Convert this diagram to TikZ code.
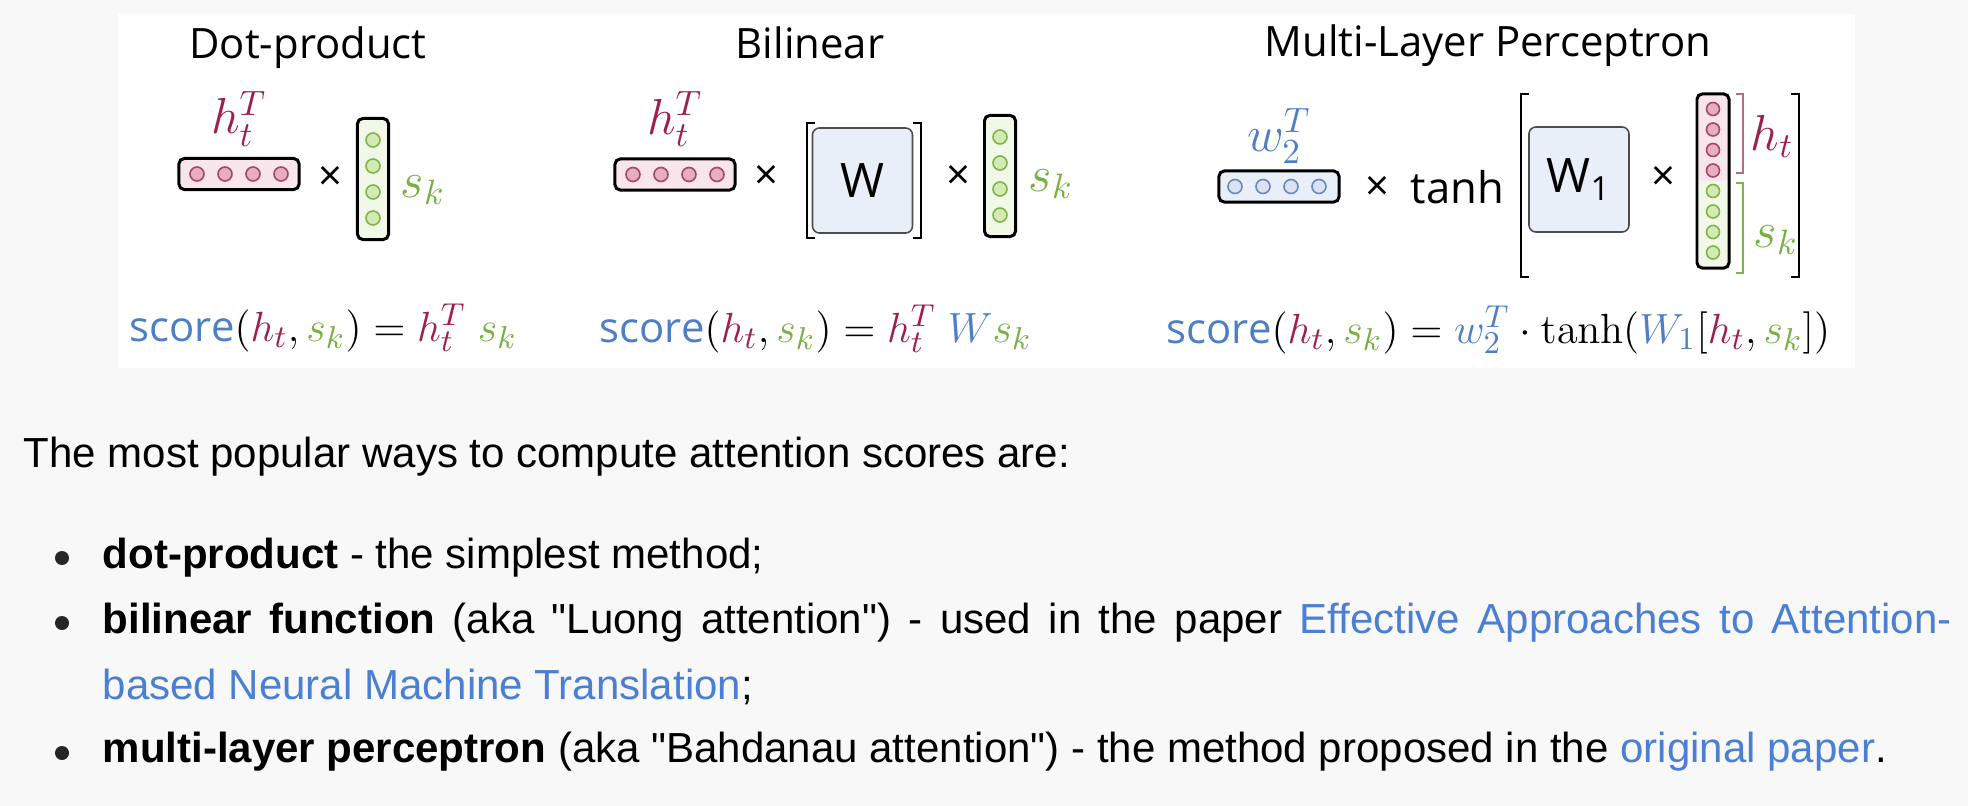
\documentclass[tikz,border=0pt]{standalone}
\usepackage[no-math]{fontspec}
\setmainfont{Open Sans}
\newfontfamily\bodyfont{Liberation Sans}
\usetikzlibrary{positioning}
\definecolor{crimson}{HTML}{9E1F4D}
\definecolor{leaf}{HTML}{78B043}
\definecolor{sky}{HTML}{4C7FC6}
\definecolor{link}{HTML}{4A7FD4}
\definecolor{pinkfill}{HTML}{F8E6EC}
\definecolor{pinkdot}{HTML}{E6AEC0}
\definecolor{pinkline}{HTML}{A5466E}
\definecolor{greenfill}{HTML}{F2F8E8}
\definecolor{greendot}{HTML}{D3EBB2}
\definecolor{greenline}{HTML}{7FB44C}
\definecolor{bluefill}{HTML}{E9EFF8}
\definecolor{bluedot}{HTML}{D9E3F3}
\definecolor{blueline}{HTML}{6C88BC}
\definecolor{pagegray}{HTML}{F8F8F8}
\newcommand{\hvec}{{\color{crimson}h_t}}
\newcommand{\hvecT}{{\color{crimson}h_t^T}}
\newcommand{\svec}{{\color{leaf}s_k}}
\newcommand{\wvecT}{{\color{sky}w_2^T}}
\newcommand{\scorefn}{\textcolor{sky}{score}}
\newcommand{\bigmath}[1]{{\fontsize{12.3}{15}\selectfont$#1$}}

\begin{document}
\begin{tikzpicture}[x=0.01cm, y=-0.01cm, font=\fontsize{11.9}{14}\selectfont,
  vecbox/.style={draw=black, line width=0.85pt, rounded corners=1.5pt, inner sep=0pt},
  rowvec/.style={vecbox, minimum width=1.2cm, minimum height=0.31cm},
  colvec/.style={vecbox, minimum width=0.31cm, minimum height=1.21cm},
  neuron/.style={circle, inner sep=0pt, minimum size=0.14cm, line width=0.45pt},
  hneuron/.style={neuron, draw=pinkline, fill=pinkdot},
  sneuron/.style={neuron, draw=greenline, fill=greendot},
  wneuron/.style={neuron, draw=blueline, fill=bluedot},
  matbox/.style={draw=black!70, line width=0.45pt, fill=bluefill, rounded corners=2pt,
    inner sep=0pt, minimum width=1cm, minimum height=1.05cm, font=\fontsize{13.5}{16}\selectfont},
  brk/.style={line width=0.8pt},
  title/.style={anchor=base, inner sep=0pt},
  lbl/.style={anchor=base west, inner sep=0pt, font=\fontsize{14.5}{17}\selectfont},
  formula/.style={anchor=base west, inner sep=0pt},
  body/.style={anchor=base west, inner sep=0pt, font=\bodyfont\fontsize{11.95}{14}\selectfont},
  bullet/.style={circle, fill=black!85, inner sep=0pt, minimum size=0.14cm}]

  % page and figure panel
  \useasboundingbox (0,0) rectangle (1968,806);
  \fill[pagegray] (0,0) rectangle (1968,806);
  \fill[white] (118,14) rectangle (1855,368);

  % titles
  \node[title] (t-dot) at (308,58) {Dot-product};
  \node[title] (t-bil) at (810,58) {Bilinear};
  \node[title] (t-mlp) at (1488,57) {Multi-Layer Perceptron};

  % dot-product
  \node[rowvec, fill=pinkfill] (dp-h) at (239,174) {};
  \foreach \i in {1,...,4} \node[hneuron] (dp-h\i) at ({169+28*\i},174) {};
  \node[above=0.1cm of dp-h, inner sep=0pt, font=\fontsize{14.5}{17}\selectfont] (dp-hl) {$\hvecT$};
  \node (dp-x) at (330,178) {×};
  \node[colvec, fill=greenfill] (dp-s) at (373,179) {};
  \foreach \i in {1,...,4} \node[sneuron] (dp-s\i) at (373,{114+26*\i}) {};
  \node[lbl] (dp-sl) at (400,197) {$\svec$};
  \node[formula] (dp-f) at (129,341) {\scorefn\bigmath{(\hvec,\svec)=\hvecT\;\svec}};

  % bilinear
  \node[rowvec, fill=pinkfill] (bl-h) at (675,174.5) {};
  \foreach \i in {1,...,4} \node[hneuron] (bl-h\i) at ({605+28*\i},174.5) {};
  \node[above=0.1cm of bl-h, inner sep=0pt, font=\fontsize{14.5}{17}\selectfont] (bl-hl) {$\hvecT$};
  \node (bl-x1) at (766,177) {×};
  \node[matbox] (bl-W) at (862.5,180.5) {W};
  \draw[brk] (815,123) -- (807,123) -- (807,238) -- (815,238);
  \draw[brk] (913,123) -- (921,123) -- (921,238) -- (913,238);
  \node (bl-x2) at (958,177) {×};
  \node[colvec, fill=greenfill] (bl-s) at (1000,176) {};
  \foreach \i in {1,...,4} \node[sneuron] (bl-s\i) at (1000,{111+26*\i}) {};
  \node[lbl] (bl-sl) at (1028,191) {$\svec$};
  \node[formula] (bl-f) at (599,342) {\scorefn\bigmath{(\hvec,\svec)=\hvecT\;{\color{sky}W}\svec}};

  % multi-layer perceptron
  \node[rowvec, fill=bluefill] (ml-w) at (1279,186.5) {};
  \foreach \i in {1,...,4} \node[wneuron] (ml-w\i) at ({1207+28*\i},186.5) {};
  \node[above=0.05cm of ml-w, inner sep=0pt, font=\fontsize{14.5}{17}\selectfont] (ml-wl) {$\wvecT$};
  \node (ml-x1) at (1377,188) {×};
  \node[anchor=base west, inner sep=0pt, font=\fontsize{12.4}{15}\selectfont] (ml-tanh) at (1410,203) {tanh};
  \node[matbox] (ml-W) at (1579,179.5) {W\textsubscript{1}};
  \node (ml-x2) at (1663,178) {×};
  \node[vecbox, fill=greenfill, minimum width=0.32cm, minimum height=1.74cm,
    path picture={\fill[pinkfill] (path picture bounding box.north west)
      rectangle (path picture bounding box.east);}] (ml-v) at (1713,181) {};
  \foreach \i in {1,...,4} \node[hneuron, minimum size=0.13cm] (ml-h\i) at (1713,{88.5+20.5*\i}) {};
  \foreach \i in {5,...,8} \node[sneuron, minimum size=0.13cm] (ml-s\i) at (1713,{88.5+20.5*\i}) {};
  \draw[brk] (1529,94) -- (1521,94) -- (1521,277) -- (1529,277);
  \draw[brk] (1791,94) -- (1799,94) -- (1799,277) -- (1791,277);
  \draw[line width=0.55pt, pinkline!80] (1736,94) -- (1743,94) -- (1743,173) -- (1736,173);
  \draw[line width=0.55pt, greenline] (1736,183) -- (1743,183) -- (1743,273) -- (1736,273);
  \node[lbl] (ml-hl) at (1750,150) {$\hvec$};
  \node[lbl] (ml-sl) at (1753,247) {$\svec$};
  \node[formula] (ml-f) at (1166,343) {\scorefn\bigmath{(\hvec,\svec)=\wvecT\cdot\tanh({\color{sky}W_1}[\hvec,\svec])}};

  % text below
  \node[body] (intro) at (23,467) {The most popular ways to compute attention scores are:};
  \node[bullet] (b1) at (62,558) {};
  \node[body] (l1) at (102,568) {\textbf{dot-product} - the simplest method;};
  \node[bullet] (b2) at (62,623) {};
  \node[body] (l2) at (102,633) {\makebox[18.48cm][s]{\textbf{bilinear function} (aka "Luong attention") - used in the paper \textcolor{link}{Effective Approaches to Attention-}}};
  \node[body] (l2b) at (102,699) {\textcolor{link}{based Neural Machine Translation};};
  \node[bullet] (b3) at (62,753) {};
  \node[body] (l3) at (102,762) {\textbf{multi-layer perceptron} (aka "Bahdanau attention") - the method proposed in the \textcolor{link}{original paper}.};
\end{tikzpicture}
\end{document}
